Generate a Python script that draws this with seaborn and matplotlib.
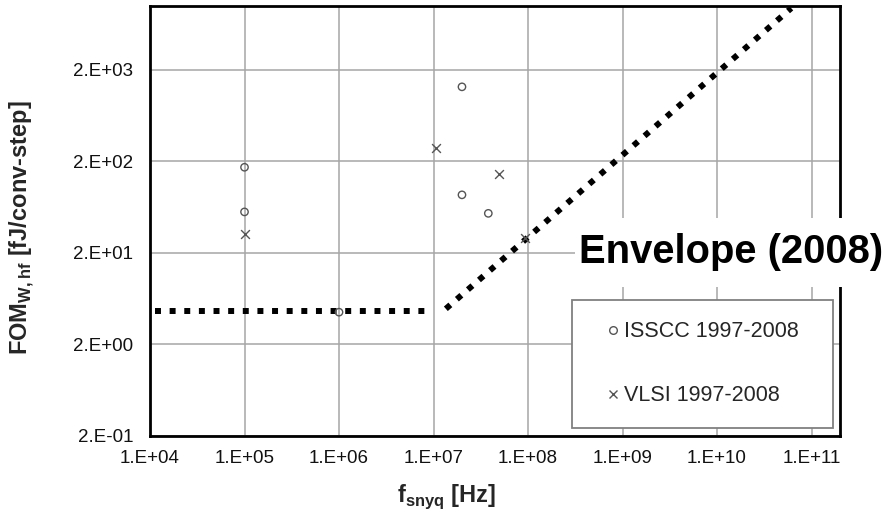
import numpy as np
import pandas as pd
import matplotlib
matplotlib.use("Agg")
import matplotlib.pyplot as plt
import matplotlib.patches as mpatches
from matplotlib.lines import Line2D
import seaborn as sns

# ---- data ----
isscc_f = [1e5, 1e5, 1e6, 2e7, 2e7, 3.8e7]
isscc_fom = [172, 56, 4.5, 1300, 86, 54]
vlsi_f = [1e5, 1.05e7, 4.9e7, 9.4e7]
vlsi_fom = [32, 277, 144, 29]
env_flat_f = [1.13e4, 8.6e6]
env_flat_fom = [4.6, 4.6]
env_slope_f = [1.35e7, 6.1e10]
env_slope_fom = [4.9, 9400]
x_ticks = [1e4, 1e5, 1e6, 1e7, 1e8, 1e9, 1e10, 1e11]
x_labels = ["1.E+04", "1.E+05", "1.E+06", "1.E+07", "1.E+08", "1.E+09", "1.E+10", "1.E+11"]
y_ticks = [0.2, 2, 20, 200, 2000]
y_labels = ["2.E-01", "2.E+00", "2.E+01", "2.E+02", "2.E+03"]
legend_labels = ["ISSCC 1997-2008", "VLSI 1997-2008"]

sns.set_style("white")
plt.rcParams["font.family"] = ["Liberation Sans", "DejaVu Sans"]
plt.rcParams["mathtext.fontset"] = "custom"
plt.rcParams["mathtext.rm"] = "Liberation Sans"
plt.rcParams["mathtext.bf"] = "Liberation Sans:bold"

fig = plt.figure(figsize=(8.91, 5.2), dpi=100)
ax = fig.add_axes([150 / 891, 84 / 520, 690 / 891, 430.3 / 520])

ax.set_xscale("log")
ax.set_yscale("log")
ax.set_xlim(1e4, 2e11)
ax.set_ylim(0.2, 1e4)

# grid
ax.set_xticks(x_ticks)
ax.set_xticklabels(x_labels)
ax.set_yticks(y_ticks)
ax.set_yticklabels(y_labels)
ax.minorticks_off()
ax.grid(True, which="major", color="#a6a6a6", lw=1.1, zorder=0)
ax.set_axisbelow(True)

# envelope lines
dot = (0, (1, 1.45))
sns.lineplot(x=env_flat_f, y=env_flat_fom, ax=ax, color="black", lw=4.3,
             linestyle=dot, dash_capstyle="butt", zorder=3)
sns.lineplot(x=env_slope_f, y=env_slope_fom, ax=ax, color="black", lw=4.3,
             linestyle=dot, dash_capstyle="butt", zorder=3)

# data points
sns.scatterplot(x=isscc_f, y=isscc_fom, ax=ax, marker="o", s=28,
                facecolor="none", edgecolor="#555555", linewidth=1.0, zorder=4)
sns.scatterplot(x=vlsi_f, y=vlsi_fom, ax=ax, marker="x", s=40,
                color="#555555", linewidth=1.0, zorder=4)

for s in ax.spines.values():
    s.set_color("black")
    s.set_linewidth(2.0)

ax.tick_params(axis="both", which="major", direction="out", length=4, width=1,
               color="black", labelsize=13.5, labelcolor="#111111")
ax.tick_params(axis="x", pad=6)
ax.tick_params(axis="y", pad=8)

# legend
handles = [
    Line2D([], [], marker="o", linestyle="none", markersize=5.5, markerfacecolor="none",
           markeredgecolor="#555555", markeredgewidth=1.0),
    Line2D([], [], marker="x", linestyle="none", markersize=6, color="#555555",
           markeredgewidth=1.0),
]
leg = ax.legend(handles, legend_labels, loc="lower left",
                bbox_to_anchor=(0.612, 0.019, 0.378, 0.293), mode="expand",
                fontsize=15.5, frameon=True, fancybox=False, labelspacing=2.0,
                borderpad=1.0, handlelength=1.79, handletextpad=-0.38,
                borderaxespad=0)
leg.get_frame().set_edgecolor("#808080")
leg.get_frame().set_linewidth(1.3)
leg.get_frame().set_facecolor("white")
leg.get_frame().set_alpha(1)
leg.set_zorder(6)

# "Envelope (2008)" label with white box extending beyond axes
rect = mpatches.Rectangle((575 / 891, 1 - 287 / 520), (891 - 575) / 891, 69 / 520,
                          transform=fig.transFigure, facecolor="white",
                          edgecolor="none", zorder=5)
fig.add_artist(rect)
fig.text(731 / 891, 1 - 252 / 520, "Envelope (2008)", ha="center", va="center",
         fontsize=28.8, fontweight="bold", color="black", zorder=6)

# axis titles
fig.text(22 / 891, 1 - 228 / 520, r"FOM$_{\mathbf{W,hf}}$ [fJ/conv-step]",
         rotation=90, ha="center", va="center", fontsize=17, fontweight="bold")
fig.text(447 / 891, 1 - 497 / 520, r"f$_{\mathbf{snyq}}$ [Hz]",
         ha="center", va="center", fontsize=17, fontweight="bold")

fig.savefig("out.png", dpi=100)
